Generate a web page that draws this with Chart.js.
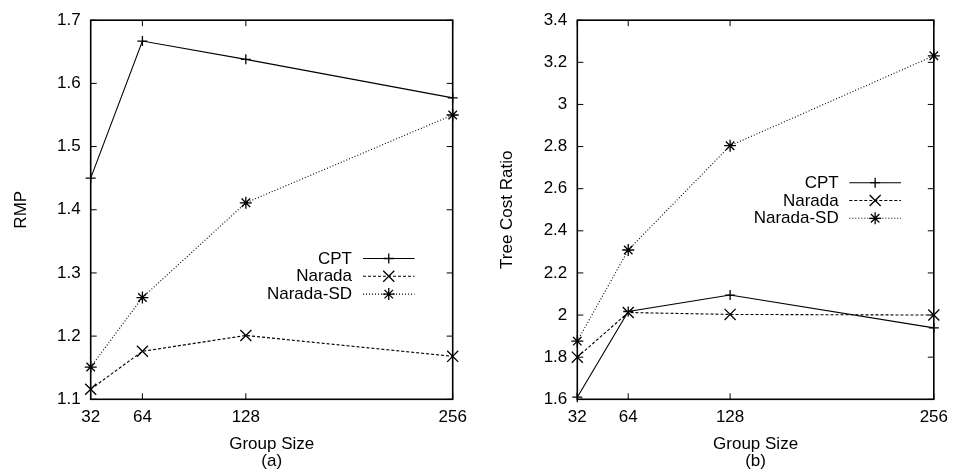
<!DOCTYPE html>
<html>
<head>
<meta charset="utf-8">
<title>RMP and Tree Cost Ratio</title>
<script src="https://cdn.jsdelivr.net/npm/chart.js@4.4.1/dist/chart.umd.min.js"></script>
<style>
	html, body { margin: 0; padding: 0; background: #fff; }
	.wrap { display: flex; width: 956px; height: 470px; }
	canvas { display: block; }
</style>
</head>
<body>
<div class="wrap">
	<canvas id="rmp-chart" width="478" height="470"></canvas>
	<canvas id="cost-chart" width="478" height="470"></canvas>
</div>
<script>
// x values shared by both panels
const groupSizes = [32, 64, 128, 256];
const seriesNames = ['CPT', 'Narada', 'Narada-SD'];

// (a) RMP
const cptRmp = [1.450, 1.667, 1.638, 1.577];
const naradaRmp = [1.116, 1.176, 1.201, 1.168];
const naradaSdRmp = [1.151, 1.261, 1.411, 1.550];
const rmpTicks = [1.1, 1.2, 1.3, 1.4, 1.5, 1.6, 1.7];

// (b) Tree Cost Ratio
const cptCost = [1.61, 2.017, 2.095, 1.939];
const naradaCost = [1.80, 2.012, 2.003, 2.000];
const naradaSdCost = [1.876, 2.309, 2.804, 3.231];
const costTicks = [1.6, 1.8, 2, 2.2, 2.4, 2.6, 2.8, 3, 3.2, 3.4];

const FONT = '"Liberation Sans", Arial, Helvetica, sans-serif';

// gnuplot-like box with inward ticks on all four sides
const framePlugin = {
	id: 'gnuFrame',
	afterDatasetsDraw: function (chart) {
		const ctx = chart.ctx;
		const {left, right, top, bottom} = chart.chartArea;
		const xs = chart.scales.x;
		const ys = chart.scales.y;
		const len = 6;

		ctx.save();
		ctx.strokeStyle = '#000';
		ctx.lineWidth = 1;
		ctx.beginPath();
		xs.ticks.forEach(function (t) {
			const px = xs.getPixelForValue(t.value);
			ctx.moveTo(px, bottom);
			ctx.lineTo(px, bottom - len);
			ctx.moveTo(px, top);
			ctx.lineTo(px, top + len);
		});
		ys.ticks.forEach(function (t) {
			const py = ys.getPixelForValue(t.value);
			ctx.moveTo(left, py);
			ctx.lineTo(left + len, py);
			ctx.moveTo(right, py);
			ctx.lineTo(right - len, py);
		});
		ctx.stroke();

		ctx.lineWidth = 1.6;
		ctx.strokeRect(left, top, right - left, bottom - top);
		ctx.restore();
	}
};

// key drawn inside the plot: label, then line sample with its marker
const keyPlugin = {
	id: 'gnuKey',
	afterDatasetsDraw: function (chart, args, opts) {
		const ctx = chart.ctx;
		ctx.save();
		ctx.font = '17px ' + FONT;
		ctx.textAlign = 'right';
		ctx.textBaseline = 'middle';

		chart.data.datasets.forEach(function (ds, i) {
			const y = opts.top + i * opts.rowHeight;
			ctx.fillStyle = '#000';
			ctx.fillText(ds.label, opts.textRight, y + 0.5);

			ctx.strokeStyle = ds.borderColor;
			ctx.lineWidth = ds.borderWidth;
			ctx.setLineDash(ds.borderDash || []);
			ctx.beginPath();
			ctx.moveTo(opts.lineLeft, y);
			ctx.lineTo(opts.lineRight, y);
			ctx.stroke();
			ctx.setLineDash([]);

			ctx.fillStyle = 'rgba(0,0,0,0)';
			ctx.lineWidth = ds.pointBorderWidth;
			Chart.helpers.drawPoint(ctx, {
				pointStyle: ds.pointStyle,
				radius: ds.pointRadius,
				borderWidth: ds.pointBorderWidth,
				rotation: 0,
			}, (opts.lineLeft + opts.lineRight) / 2, y);
		});
		ctx.restore();
	}
};

function makeDatasets(cpt, narada, naradaSd) {
	const base = {
		borderColor: '#000',
		borderWidth: 1.1,
		pointBorderColor: '#000',
		pointBackgroundColor: 'rgba(0,0,0,0)',
		pointBorderWidth: 1.3,
		pointHoverRadius: 0,
		tension: 0,
		fill: false,
		clip: false,
	};
	const toPoints = function (vals) {
		return groupSizes.map(function (g, i) {
			return {x: g, y: vals[i]};
		});
	};

	return [
		Object.assign({}, base, {
			label: seriesNames[0], data: toPoints(cpt),
			pointStyle: 'cross', pointRadius: 5,
		}),
		Object.assign({}, base, {
			label: seriesNames[1], data: toPoints(narada),
			borderDash: [3, 2],
			pointStyle: 'crossRot', pointRadius: 7.8,
		}),
		Object.assign({}, base, {
			label: seriesNames[2], data: toPoints(naradaSd),
			borderDash: [1, 2],
			pointStyle: 'star', pointRadius: 6,
		}),
	];
}

function makeConfig(p) {
	return {
		type: 'line',
		data: {datasets: makeDatasets(p.cpt, p.narada, p.naradaSd)},
		plugins: [framePlugin, keyPlugin],
		options: {
			responsive: false,
			animation: false,
			events: [],
			layout: {padding: {top: 17, right: p.padRight, bottom: 0, left: 0}},
			plugins: {
				legend: {display: false},
				tooltip: {enabled: false},
				gnuKey: p.key,
			},
			scales: {
				x: {
					type: 'linear',
					min: groupSizes[0],
					max: groupSizes[groupSizes.length - 1],
					afterBuildTicks: function (scale) {
						scale.ticks = groupSizes.map(function (v) { return {value: v}; });
					},
					afterFit: function (scale) {
						scale.height = 70.7;
					},
					grid: {display: false, drawTicks: false},
					border: {display: false},
					ticks: {
						padding: 8,
						autoSkip: false,
						maxRotation: 0,
						color: '#000',
						font: {family: FONT, size: 17},
						callback: function (v) { return String(v); },
					},
					title: {
						display: true,
						text: ['Group Size', p.caption],
						color: '#000',
						font: {family: FONT, size: 17, lineHeight: '17px'},
						padding: {top: 0, bottom: 0.5},
					},
				},
				y: {
					type: 'linear',
					min: p.yTicks[0],
					max: p.yTicks[p.yTicks.length - 1],
					afterBuildTicks: function (scale) {
						scale.ticks = p.yTicks.map(function (v) { return {value: v}; });
					},
					afterFit: function (scale) {
						scale.width = p.yWidth;
					},
					grid: {display: false, drawTicks: false},
					border: {display: false},
					ticks: {
						padding: 10,
						autoSkip: false,
						color: '#000',
						font: {family: FONT, size: 17},
						callback: function (v) { return String(v); },
					},
					title: {
						display: true,
						text: p.yTitle,
						color: '#000',
						font: {family: FONT, size: 17, lineHeight: 1.2},
						padding: {top: p.yTitlePad, bottom: 0},
					},
				},
			},
		},
	};
}

new Chart(document.getElementById('rmp-chart'), makeConfig({
	cpt: cptRmp, narada: naradaRmp, naradaSd: naradaSdRmp,
	yTicks: rmpTicks, yTitle: 'RMP', caption: '(a)',
	yWidth: 90.7, yTitlePad: 11, padRight: 25.3,
	key: {top: 258.5, rowHeight: 17.8, textRight: 352, lineLeft: 363, lineRight: 414.5},
}));

new Chart(document.getElementById('cost-chart'), makeConfig({
	cpt: cptCost, narada: naradaCost, naradaSd: naradaSdCost,
	yTicks: costTicks, yTitle: 'Tree Cost Ratio', caption: '(b)',
	yWidth: 99.3, yTitlePad: 19, padRight: 16.7,
	key: {top: 182.7, rowHeight: 17.8, textRight: 360.7, lineLeft: 371.3, lineRight: 423},
}));
</script>
</body>
</html>
